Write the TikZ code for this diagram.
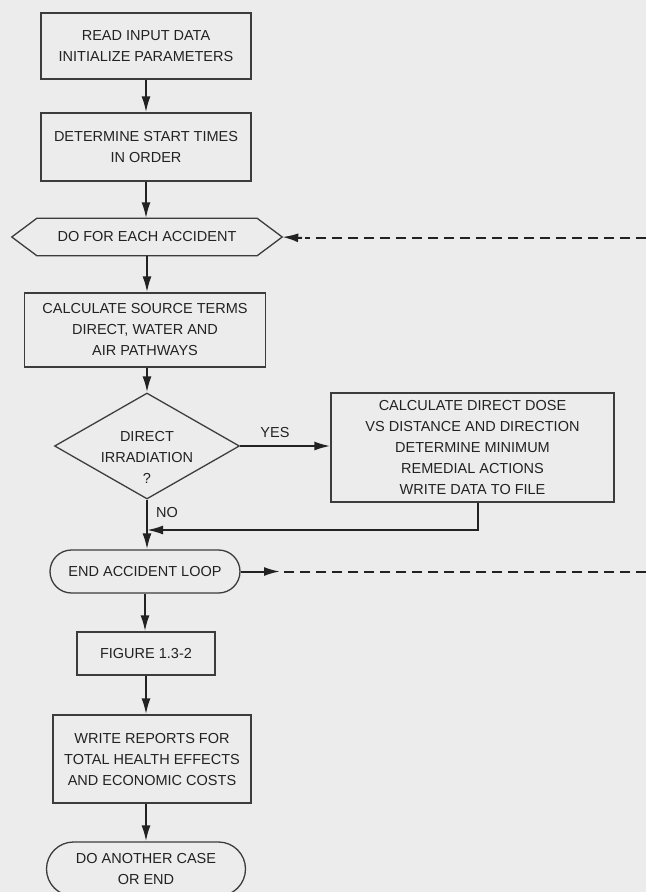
\documentclass[tikz,border=0pt]{standalone}
\usepackage{fontspec}
\setmainfont{Liberation Sans}
\usetikzlibrary{arrows.meta,shapes.geometric,shapes.misc}

\definecolor{paper}{HTML}{ECECEC}
\definecolor{ink}{HTML}{222222}
\definecolor{inklight}{HTML}{3C3C3C}

\begin{document}
\begin{tikzpicture}[x=1pt,y=-1pt,
  lbl/.style={font=\fontsize{14.5}{21}\selectfont, text=ink, align=center},
  box/.style={lbl, draw=inklight, line width=1.3pt, inner sep=0pt, rectangle},
  term/.style={lbl, draw=inklight, line width=1.3pt, inner sep=0pt, rounded rectangle},
  flow/.style={draw=ink, line width=2pt, -{Latex[length=16pt,width=9pt]}},
  loopdash/.style={draw=ink, line width=2pt, dash pattern=on 10pt off 6pt}]

% sheet
\fill[paper] (0,0) rectangle (646,892);
\useasboundingbox (0,0) rectangle (646,892);

% main column
\node[box, minimum width=210pt, minimum height=66pt] (read) at (146,46)
  {READ INPUT DATA\\INITIALIZE PARAMETERS};
\node[box, minimum width=210pt, minimum height=68pt] (start) at (146,147)
  {DETERMINE START TIMES\\IN ORDER};

% loop header (hexagon)
\node[lbl, minimum width=220pt, minimum height=37pt, inner sep=0pt] (doeach) at (147,237)
  {DO FOR EACH ACCIDENT};
\draw[draw=inklight, line width=1.3pt]
  (doeach.north west) -- (doeach.north east) -- ([xshift=25pt]doeach.east) coordinate (doeach-e)
  -- (doeach.south east) -- (doeach.south west) -- ([xshift=-25pt]doeach.west) -- cycle;

\node[box, minimum width=241pt, minimum height=74pt] (calc) at (145,330)
  {CALCULATE SOURCE TERMS\\DIRECT, WATER AND\\AIR PATHWAYS};

% decision
\node[diamond, draw=inklight, line width=1.3pt, minimum width=185pt, minimum height=106pt,
  inner sep=0pt] (dirq) at (147,446) {};
\node[lbl] (dirqtext) at (147,457) {DIRECT\\IRRADIATION\\?};
\node[lbl] (yes) at (275,433) {YES};
\node[lbl] (no) at (167,512) {NO};

\node[box, minimum width=283pt, minimum height=109pt] (direct) at (472.5,447.5)
  {CALCULATE DIRECT DOSE\\VS DISTANCE AND DIRECTION\\DETERMINE MINIMUM\\REMEDIAL ACTIONS\\WRITE DATA TO FILE};

\coordinate (merge) at (147,530);

\node[term, minimum width=190pt, minimum height=43pt] (endloop) at (145,571.5)
  {END ACCIDENT LOOP};
\node[box, minimum width=138pt, minimum height=43pt] (fig) at (146,653.5)
  {FIGURE 1.3-2};
\node[box, minimum width=198pt, minimum height=88pt] (reports) at (152,759)
  {WRITE REPORTS FOR\\TOTAL HEALTH EFFECTS\\AND ECONOMIC COSTS};
\node[term, minimum width=199pt, minimum height=54pt] (final) at (146,869)
  {DO ANOTHER CASE\\OR END};

% loop-back ends running off the right edge
\coordinate (dotail) at (302,238);
\coordinate (dofar) at (646,238);
\coordinate (endtip) at (280,571.5);
\coordinate (endfar) at (646,571.5);

% connectors
\draw[flow] (read.south) -- (start.north);
\draw[flow] (start.south) -- (start.south |- doeach.north);
\draw[flow] (doeach.south) -- (doeach.south |- calc.north);
\draw[flow] (calc.south -| dirq.north) -- (dirq.north);
\draw[flow] (dirq.east) -- (direct.west |- dirq.east);
\draw[flow] ([xshift=5.5pt]direct.south) |- (merge);
\draw[flow] (dirq.south) -- (dirq.south |- endloop.north);
\draw[flow] (endloop.south) -- (endloop.south |- fig.north);
\draw[flow] (fig.south) -- (fig.south |- reports.north);
\draw[flow] (reports.south -| final.north) -- (final.north);

\draw[loopdash] (dofar) -- ([xshift=3pt]dotail);
\draw[flow] (dotail) -- (doeach-e);
\draw[flow] (endloop.east) -- (endtip);
\draw[loopdash] ([xshift=4pt]endtip) -- (endfar);
\end{tikzpicture}
\end{document}
